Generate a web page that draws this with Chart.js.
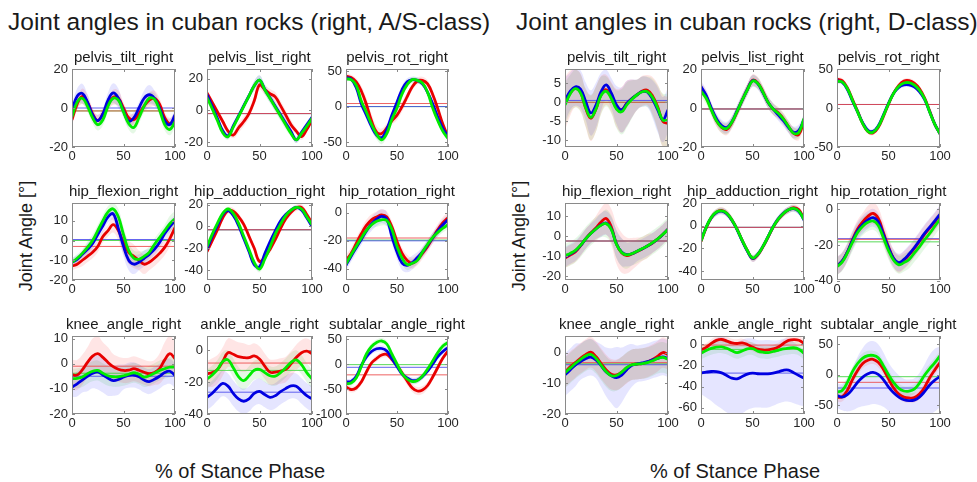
<!DOCTYPE html>
<html>
<head>
<meta charset="utf-8">
<script src="https://cdn.jsdelivr.net/npm/chart.js@4.4.1/dist/chart.umd.min.js"></script>
<style>
  body { margin: 0; background: #fff; }
  #fig { position: relative; width: 977px; height: 482px; overflow: hidden;
         font-family: 'Liberation Sans', Arial, sans-serif; color: #1a1a1a; }
  #fig canvas { position: absolute; }
  .sup  { position: absolute; top: 8px; font-size: 24.5px; white-space: nowrap; }
  .ylab { position: absolute; font-size: 18px; white-space: nowrap;
          transform: translate(-50%, -50%) rotate(-90deg); }
  .xlab { position: absolute; font-size: 20px; white-space: nowrap; transform: translate(-50%, -50%); }
</style>
</head>
<body>
<div id="fig">
  <div class="sup" style="left:8px">Joint angles in cuban rocks (right, A/S-class)</div>
  <div class="sup" style="left:516px">Joint angles in cuban rocks (right, D-class)</div>
  <div class="ylab" style="left:26px; top:236px">Joint Angle [°]</div>
  <div class="ylab" style="left:519px; top:236px">Joint Angle [°]</div>
  <div class="xlab" style="left:240px; top:471px">% of Stance Phase</div>
  <div class="xlab" style="left:735px; top:471px">% of Stance Phase</div>
</div>
<script>
/* ─── DATA ──────────────────────────────────────────────
   % of stance phase, sampled every 5 %.
   Each panel: red / blue / green mean curves, their SD,
   the three horizontal mean lines [red, blue, green],
   y range and y tick labels.                            */
const PCT = [0, 5, 10, 15, 20, 25, 30, 35, 40, 45, 50, 55, 60, 65, 70, 75, 80, 85, 90, 95, 100];
const X_TICKS = [0, 50, 100];

/* A/S-class */
const asTiltR = [-6, 2, 6, 3, -3, -6.5, -3, 2, 5.5, 5, 0, -5, -6, -3, 1, 4, 5, 2, -5, -8, -5];
const asTiltB = [-1, 6, 7.5, 3, -3.5, -6.5, -3, 4, 7.7, 5, -1.5, -6.8, -5, 0, 5, 6.8, 5, 0, -6.5, -8.5, -3.5];
const asTiltG = [-4.5, 3, 5, 1, -5, -8.5, -6, 1, 5, 4, -2, -8, -10, -5, 1, 5, 4.5, -1, -8.5, -11, -7];
const asTiltSdR = [3, 3, 4, 4, 3, 3, 3, 3, 4, 4, 3, 3, 3, 3, 3, 4, 4, 3, 3, 3, 3];
const asTiltSdB = [3, 4, 5, 4, 3, 3, 3, 4, 5, 5, 3, 3, 3, 3, 4, 5, 4, 3, 3, 3, 3];
const asTiltSdG = [3, 3, 3, 3, 3, 3, 3, 3, 3, 3, 3, 3, 3, 3, 3, 3, 3, 3, 3, 3, 3];
const asTiltM = [-1.5, 0, -1.5];
const asTiltY = [-20, 20], asTiltT = [-20, 0, 20];

const asListR = [11, 5, -1, -7, -13, -15.5, -11, -7, -2, 6, 16, 13, 10.5, 8.5, 3, -3, -9, -13, -16.5, -12, -6];
const asListB = [10, 2.4, -5.2, -12.8, -16, -9.7, -3.4, 2.9, 9.2, 15.5, 19, 13.2, 7.9, 2.6, -2.7, -8, -13.3, -18.5, -13.8, -9.1, -4.4];
const asListG = [8, 1, -6.5, -14, -16.5, -10.5, -4, 2.5, 9, 15.5, 19, 13, 7.5, 2, -3.5, -9, -14.5, -18.5, -14.5, -10, -5];
const asListSdR = [2, 2, 2, 2, 2, 2, 3, 3, 3, 3, 3, 3, 3, 3, 3, 3, 3, 2, 2, 2, 2];
const asListSdB = [2, 2, 2, 2, 2, 2, 2, 2, 2, 3, 3, 3, 3, 3, 3, 3, 2, 2, 2, 2, 2];
const asListSdG = [2, 2, 2, 2, 2, 2, 2, 2, 2, 3, 3, 3, 3, 3, 3, 3, 2, 2, 2, 2, 2];
const asListM = [-2, -2, -2];
const asListY = [-23, 26], asListT = [-20, 0, 20];

const asRotR = [43, 41, 35, 22, 3, -20, -36, -38, -30, -20, -12, 0, 14, 28, 36, 37, 32, 17, -3, -25, -42];
const asRotB = [41, 39, 27, 4, -12, -28, -40, -44, -32, -12, 6, 24, 35, 38, 37, 32, 20, 4, -15, -31, -42];
const asRotG = [39, 38, 30, 8, -8, -25, -39, -47, -38, -18, -2, 18, 31, 38, 37, 33, 20, -2, -20, -35, -45];
const asRotSdR = [4, 4, 5, 7, 9, 10, 9, 7, 6, 6, 7, 7, 6, 5, 5, 5, 5, 5, 5, 4, 4];
const asRotSdB = [3, 3, 4, 5, 6, 6, 5, 4, 4, 5, 6, 6, 5, 4, 4, 4, 4, 4, 4, 4, 3];
const asRotSdG = [3, 3, 4, 5, 6, 7, 7, 6, 5, 5, 5, 5, 4, 4, 4, 4, 4, 4, 4, 4, 3];
const asRotM = [4.3, 0, 0];
const asRotY = [-57, 53], asRotT = [-50, 0, 50];

const asHipFlexR = [-13, -12, -10, -8, -6, -3, 2, 5, 8, 5, -1, -6, -8, -10, -12, -11, -9, -6.5, -3.5, 1, 6.5];
const asHipFlexB = [-11, -9.5, -7, -4.5, -1.5, 3, 7.5, 12, 13.5, 6, -3, -10, -12, -11, -9, -7, -4.5, -1, 3.5, 7, 10];
const asHipFlexG = [-11, -9, -6.5, -3.5, 0, 5, 10, 14.5, 16, 12, 3, -5, -9, -9.5, -8, -6, -2, 1.5, 5, 8.5, 11];
const asHipFlexSdR = [2, 2, 3, 3, 3, 3, 3, 3, 4, 5, 6, 6, 6, 5, 5, 4, 4, 4, 4, 4, 4];
const asHipFlexSdB = [2, 2, 2, 3, 3, 3, 3, 3, 3, 4, 5, 5, 5, 4, 4, 3, 3, 3, 3, 3, 3];
const asHipFlexSdG = [2, 2, 2, 3, 3, 3, 3, 3, 3, 4, 4, 4, 4, 4, 3, 3, 3, 3, 3, 4, 4];
const asHipFlexM = [-3, 0.5, 0];
const asHipFlexY = [-20, 19], asHipFlexT = [-20, -10, 0, 10];

const asHipAddR = [-23, -13, -3, 8, 14.5, 14, 9, 2, -9, -20, -32, -28, -21, -12, -2, 7, 13, 17, 17.5, 11, 3];
const asHipAddB = [-21, -9, 1, 11, 14.5, 10, 1, -11, -23, -35, -37, -25, -14, -4, 5, 11, 15, 17.5, 15, 8, 0];
const asHipAddG = [-18.5, -7, 3, 12, 16, 12, 3, -9, -21, -33, -39, -30, -19, -7, 2, 10, 15, 17.5, 16, 9, 1.5];
const asHipAddSdR = [3, 3, 3, 3, 3, 3, 3, 3, 3, 3, 3, 3, 3, 3, 3, 3, 3, 3, 3, 3, 3];
const asHipAddSdB = [2, 2, 2, 2, 2, 2, 2, 2, 3, 3, 3, 3, 3, 2, 2, 2, 2, 2, 2, 2, 2];
const asHipAddSdG = [2, 2, 2, 2, 2, 2, 2, 2, 3, 3, 3, 3, 3, 2, 2, 2, 2, 2, 2, 2, 2];
const asHipAddM = [-3, -3, -3];
const asHipAddY = [-49, 21.5], asHipAddT = [-40, -20, 0, 20];

const asHipRotR = [-34, -29, -22, -15, -9, -5, -3, -1.5, -3, -10, -20.5, -29, -34, -36, -33.5, -29, -24, -18, -12, -7, -3.5];
const asHipRotB = [-37.5, -31, -25, -19, -13, -8, -4.5, -2.5, -4.5, -17, -28, -36, -37.5, -35.5, -32, -28, -23, -18, -13, -8.5, -5];
const asHipRotG = [-36.5, -30, -24, -18, -12.5, -8.5, -6, -5, -5.5, -12, -24, -32.5, -37, -36, -34, -28, -22.5, -17.5, -14, -11, -8.5];
const asHipRotSdR = [4, 4, 4, 4, 4, 4, 4, 4, 4, 4, 4, 4, 4, 4, 4, 4, 4, 4, 4, 4, 4];
const asHipRotSdB = [4, 4, 4, 4, 4, 5, 5, 5, 5, 5, 5, 5, 5, 5, 4, 4, 4, 4, 4, 4, 4];
const asHipRotSdG = [3, 3, 3, 3, 3, 3, 4, 4, 4, 4, 4, 4, 4, 3, 3, 3, 3, 3, 3, 3, 3];
const asHipRotM = [-18, -20, -19.5];
const asHipRotY = [-48, 7], asHipRotT = [-40, -20, 0];

const asKneeR = [-4.4, -4.5, -2.5, 0.5, 3, 4, 2.5, 0.5, -1.2, -2.2, -2.7, -2.6, -2, -2.6, -3.4, -4, -3.5, -2, 1.5, 4, 2];
const asKneeB = [-9.3, -8, -6.5, -5, -3.8, -3.3, -4.5, -5.8, -6.7, -6.3, -5.3, -4.6, -4.5, -5.2, -6.5, -7.1, -6.2, -5, -3.5, -3, -4.7];
const asKneeG = [-6, -5.8, -5.3, -4, -3, -2.7, -3.8, -4.8, -5.2, -5.2, -4.8, -4.2, -3.6, -4.2, -5.3, -4.8, -3.8, -2.7, -2, -1.4, -1.3];
const asKneeSdR = [6, 6, 6, 6, 7, 7, 6, 6, 5, 5, 5, 5, 5, 5, 5, 5, 5, 6, 7, 7, 7];
const asKneeSdB = [4, 5, 5, 6, 6, 7, 7, 7, 6, 6, 5, 5, 5, 5, 5, 5, 5, 5, 5, 5, 5];
const asKneeSdG = [4, 4, 4, 4, 4, 4, 4, 4, 4, 4, 4, 4, 4, 4, 4, 4, 4, 4, 4, 4, 4];
const asKneeM = [-1, -5, -3.8];
const asKneeY = [-20, 11], asKneeT = [-20, -10, 0, 10];

const asAnkleR = [-14.7, -14, -12, -7, -1.5, -2.5, -4, -4.6, -4.6, -3.5, -5.5, -10, -13.7, -13.7, -13, -12, -8.5, -4.5, -1.5, -0.5, -2];
const asAnkleB = [-29.5, -27, -23.5, -20.8, -22.5, -27, -30.5, -32, -30.5, -27, -25.8, -27.8, -29.5, -28.5, -26, -24, -22.3, -22.5, -25.5, -28.5, -30.5];
const asAnkleG = [-18, -15.5, -12, -7, -6, -11, -16.5, -19, -16, -12.5, -12, -14, -16, -16.2, -14, -11, -7.5, -6, -9, -14, -18];
const asAnkleSdR = [8, 9, 9, 9, 9, 9, 9, 9, 8, 8, 8, 8, 8, 8, 8, 8, 8, 8, 8, 8, 8];
const asAnkleSdB = [8, 8, 8, 8, 8, 8, 8, 8, 8, 8, 8, 8, 8, 8, 8, 8, 8, 8, 8, 8, 8];
const asAnkleSdG = [6, 6, 6, 6, 6, 6, 6, 6, 6, 6, 6, 6, 6, 6, 6, 6, 6, 6, 6, 6, 6];
const asAnkleM = [-8, -26.3, -12.6];
const asAnkleY = [-40, 9], asAnkleT = [-40, -20, 0];

const asSubR = [-46, -51, -48, -36, -16, 2, 11, 18, 19, 9, -3, -18, -34, -48, -54, -52, -43, -26, -7, 12, 26];
const asSubB = [-36, -35, -25, -3, 14, 25, 30.5, 31, 26, 11, -5, -20, -28, -33, -32, -25, -14, 0, 15, 25, 33];
const asSubG = [-39.5, -38, -28, -5, 20, 35, 43, 46, 40, 20, 0, -19, -30, -35, -33, -24, -10, 6, 23, 36, 43];
const asSubSdR = [6, 6, 6, 6, 6, 6, 6, 6, 6, 6, 7, 8, 8, 8, 8, 8, 7, 6, 6, 6, 6];
const asSubSdB = [6, 6, 6, 6, 6, 6, 6, 6, 6, 6, 6, 6, 6, 6, 6, 6, 6, 6, 6, 6, 6];
const asSubSdG = [6, 6, 6, 6, 6, 6, 6, 6, 6, 6, 6, 6, 6, 6, 6, 6, 6, 6, 6, 6, 6];
const asSubM = [-21.7, -6.6, -1.3];
const asSubY = [-100, 56], asSubT = [-100, -50, 0, 50];

/* D-class */
const dTiltR = [-0.3, 2.4, 3.7, 2.7, -1.5, -4.2, -1.8, 2, 3.3, 1.3, -1.5, -2, -0.3, 1, 2, 3, 3.2, 1.7, -1.2, -5, -5.6];
const dTiltB = [0.5, 2.9, 4.1, 3.5, 0.3, -2.8, -0.8, 2.8, 4.6, 2.4, -0.7, -2, -0.3, 1, 2, 2.8, 2.7, 0.8, -2, -4.6, -2];
const dTiltG = [-0.7, 2.2, 3.6, 2.5, -1.3, -4, -1.8, 1.8, 2.9, 1, -1.8, -2.5, -0.7, 0.8, 2, 2.8, 2.8, 1.3, -1.5, -4.7, -4.7];
const dTiltSdR = [7, 6, 5, 5, 5, 6, 6, 5, 4, 4, 5, 6, 6, 5, 4, 4, 4, 5, 6, 7, 7];
const dTiltSdB = [6, 5, 5, 5, 5, 6, 6, 5, 4, 4, 5, 6, 6, 5, 4, 4, 4, 5, 6, 6, 6];
const dTiltSdG = [6, 5, 5, 5, 5, 6, 6, 5, 4, 4, 5, 6, 6, 5, 4, 4, 4, 5, 6, 7, 7];
const dTiltM = [0, 0.5, 0];
const dTiltY = [-11.8, 8.8], dTiltT = [-10, -5, 0, 5];

const dListR = [10.2, 6, -0.5, -6.5, -10, -11, -7.5, -2, 4, 9.5, 14.3, 13, 8.5, 3, -0.5, -2.5, -5.5, -9.5, -13, -13.5, -6.8];
const dListB = [11, 6.5, 0, -5.5, -9, -10, -7, -1.5, 4, 9.5, 14, 12.5, 8, 3, -0.5, -3.5, -6.5, -10, -12.5, -11.5, -6];
const dListG = [8.5, 5, -1, -6.5, -9.8, -10.5, -7.2, -1.8, 4, 9.3, 13.8, 12.7, 8.3, 3, -0.5, -2.7, -5.7, -9.5, -13, -12.5, -5.4];
const dListSdR = [3, 3, 3, 3, 3, 3, 3, 3, 3, 3, 3, 3, 3, 3, 3, 3, 3, 3, 3, 3, 3];
const dListSdB = [3, 3, 3, 3, 3, 3, 3, 3, 3, 3, 3, 3, 3, 3, 3, 3, 3, 3, 3, 3, 3];
const dListSdG = [3, 3, 3, 3, 3, 3, 3, 3, 3, 3, 3, 3, 3, 3, 3, 3, 3, 3, 3, 3, 3];
const dListM = [-0.5, -0.5, -0.5];
const dListY = [-20, 20], dListT = [-20, 0, 20];

const dRotR = [37, 35, 26, 11, -4, -20, -30, -32, -25, -11, 5, 19, 29, 34.5, 35, 32, 25, 13, -4, -21, -33];
const dRotB = [35, 33, 24, 9, -5, -19, -28.5, -30, -23, -9, 6, 19, 26.5, 29.5, 29.5, 27, 21, 11, -5, -21, -33];
const dRotG = [34, 33.5, 25, 10, -5, -20, -30, -31, -24, -10, 5.5, 19, 28, 32, 32.5, 29.5, 23, 12, -5, -21, -33];
const dRotSdR = [3, 3, 3, 3, 3, 3, 3, 3, 3, 3, 3, 3, 3, 3, 3, 3, 3, 3, 3, 3, 3];
const dRotSdB = [3, 3, 3, 3, 3, 3, 3, 3, 3, 3, 3, 3, 3, 3, 3, 3, 3, 3, 3, 3, 3];
const dRotSdG = [3, 3, 3, 3, 3, 3, 3, 3, 3, 3, 3, 3, 3, 3, 3, 3, 3, 3, 3, 3, 3];
const dRotM = [4.5, 4.5, 4.5];
const dRotY = [-50, 50], dRotT = [-50, 0, 50];

const dHipFlexR = [-11, -9.5, -8, -5, -1.5, 1.5, 4, 7, 8.7, 4.5, -4, -8.4, -9.8, -9, -7.8, -6.5, -5, -3.5, -1.5, 0.8, 3.4];
const dHipFlexB = [-10.5, -9, -7.5, -4.8, -1.5, 1.2, 3.5, 5.5, 6.5, 3.5, -4, -8, -9.3, -8.8, -7.6, -6.4, -5, -3.4, -1.5, 0.8, 3.4];
const dHipFlexG = [-9.8, -8.7, -7.2, -4.6, -1.5, 1.2, 3.5, 5.4, 6.2, 3.2, -4.2, -8.2, -9.4, -8.8, -7.6, -6.3, -5, -3.3, -1.4, 0.8, 3.2];
const dHipFlexSdR = [5, 5, 5, 5, 5, 5, 6, 7, 8, 9, 10, 10, 9, 8, 7, 6, 6, 5, 5, 5, 5];
const dHipFlexSdB = [5, 5, 5, 5, 5, 5, 5, 6, 6, 6, 7, 7, 6, 6, 5, 5, 5, 5, 5, 5, 5];
const dHipFlexSdG = [6, 6, 6, 6, 6, 6, 6, 6, 7, 7, 7, 7, 7, 6, 6, 6, 6, 6, 6, 6, 6];
const dHipFlexM = [-2.5, -2.5, -2.5];
const dHipFlexY = [-22, 16.5], dHipFlexT = [-20, -10, 0, 10];

const dHipAddR = [-14, -2, 7, 12, 13.5, 11, 5, -3, -13, -22, -29, -26, -19, -10.5, -1.5, 5.5, 10.5, 14, 16, 14, 6];
const dHipAddB = [-13, -1.5, 7, 11.5, 12.8, 10.5, 4.8, -3.5, -13.5, -22.5, -29, -25.5, -18.5, -10, -1, 6, 11, 14, 15, 12.5, 5];
const dHipAddG = [-13.5, -1.5, 7.3, 12, 13, 11, 5, -3.2, -13, -22, -28.5, -25.5, -18.5, -10, -1.2, 5.8, 10.8, 14, 15.3, 12.8, 5.5];
const dHipAddSdR = [3, 3, 3, 3, 3, 3, 3, 3, 3, 3, 3, 3, 3, 3, 3, 3, 3, 3, 3, 3, 3];
const dHipAddSdB = [3, 3, 3, 3, 3, 3, 3, 3, 3, 3, 3, 3, 3, 3, 3, 3, 3, 3, 3, 3, 3];
const dHipAddSdG = [3, 3, 3, 3, 3, 3, 3, 3, 3, 3, 3, 3, 3, 3, 3, 3, 3, 3, 3, 3, 3];
const dHipAddM = [-1.5, -1.5, -1.5];
const dHipAddY = [-48, 20], dHipAddT = [-40, -20, 0, 20];

const dHipRotR = [-31.7, -29, -24, -17, -11, -7, -4, -2.3, -5, -13, -21, -27.5, -30.4, -28.5, -25.5, -22, -18, -14, -10.5, -7, -3.2];
const dHipRotB = [-31.7, -29, -24, -17.5, -12, -8.5, -6, -4.7, -7, -14, -21.5, -27.5, -29.8, -28, -25, -21.5, -17.5, -13.5, -10, -6.5, -2.8];
const dHipRotG = [-32, -29.5, -24.5, -18.5, -13, -9.5, -7.3, -6.5, -9, -15.8, -23, -28.5, -31, -29.8, -28, -24.5, -21, -17, -13.5, -9.5, -5.6];
const dHipRotSdR = [5, 5, 5, 5, 5, 5, 6, 6, 6, 6, 6, 5, 5, 5, 5, 5, 5, 5, 5, 5, 5];
const dHipRotSdB = [5, 5, 5, 5, 5, 5, 5, 5, 5, 5, 5, 5, 5, 5, 5, 5, 5, 5, 5, 5, 5];
const dHipRotSdG = [5, 5, 5, 5, 5, 5, 5, 5, 5, 5, 5, 5, 5, 5, 5, 5, 5, 5, 5, 5, 5];
const dHipRotM = [-16.8, -16.4, -18.2];
const dHipRotY = [-39.5, 3.5], dHipRotT = [-40, -20, 0];

const dKneeR = [-6.3, -4.6, -3.2, -1.8, -0.6, 0.2, -1.2, -3.5, -5.6, -7, -7.2, -6.3, -5, -3.9, -3.7, -3.5, -3, -2.2, -1.1, 0.1, -0.5];
const dKneeB = [-7.2, -5.6, -4, -2.9, -1.9, -1.4, -2.3, -4.2, -6.3, -7.5, -8.1, -7.3, -5.5, -4.1, -3.6, -3.3, -2.9, -2.3, -1.8, -1.3, -1.9];
const dKneeG = [-6.5, -5, -3.5, -2.2, -1, -0.5, -1.8, -4, -6.2, -7.5, -7.4, -6.3, -4.8, -3.9, -3.7, -3.5, -3.2, -2.6, -1.8, -1.5, -2.1];
const dKneeSdR = [5, 5, 5, 5, 5, 5, 5, 5, 5, 5, 5, 5, 5, 5, 5, 5, 5, 5, 5, 5, 5];
const dKneeSdB = [7, 7, 7, 6, 6, 6, 6, 7, 8, 9, 10, 9, 8, 7, 6, 6, 6, 6, 6, 6, 6];
const dKneeSdG = [5, 5, 5, 5, 5, 5, 5, 5, 5, 5, 5, 5, 5, 5, 5, 5, 5, 5, 5, 5, 5];
const dKneeM = [-3.2, -3.9, -3.6];
const dKneeY = [-20, 5.5], dKneeT = [-20, -10, 0];

const dAnkleR = [-5.3, -2.8, 1, 3.8, 4.7, 3.2, 1.5, 0.9, 1.5, 0, -2.5, -4.5, -5.3, -5.2, -4.3, -2.5, 0.9, 3.8, 4.6, 4, 0.9];
const dAnkleB = [-27.2, -26.3, -25.7, -25.8, -27, -29.5, -32, -32.6, -30.5, -28.2, -27.3, -27.8, -28, -27.9, -27.2, -26, -24.5, -24.4, -26.8, -29.5, -31.9];
const dAnkleG = [-8.4, -5.8, -3.8, -2.6, -2.3, -3.6, -6, -7.7, -6.2, -4.2, -4, -6.3, -7.4, -7.8, -6.7, -5.6, -4.3, -3.5, -3.1, -4.5, -8.4];
const dAnkleSdR = [4, 4, 4, 4, 4, 4, 4, 4, 4, 4, 4, 4, 4, 4, 4, 4, 4, 4, 4, 4, 4];
const dAnkleSdB = [20, 24, 28, 32, 34, 35, 35, 35, 35, 34, 33, 32, 32, 32, 31, 30, 30, 30, 29, 28, 27];
const dAnkleSdG = [6, 6, 6, 6, 6, 6, 6, 6, 6, 6, 6, 6, 6, 6, 6, 6, 6, 6, 6, 6, 6];
const dAnkleM = [-0.6, -27.2, -4.7];
const dAnkleY = [-66, 8], dAnkleT = [-60, -40, -20, 0];

const dSubR = [-37.4, -36.5, -26, -8, 7, 18.5, 24, 25.5, 20.5, 9, -7, -22, -32, -37, -38.5, -38, -32, -21, -5, 8, 20.3];
const dSubB = [-34.6, -37, -33, -24, -12.5, -4, 1.5, 3.7, 0.5, -8, -20, -30, -37, -41.5, -42.9, -42, -37, -28, -17, -9, -3.3];
const dSubG = [-29, -26, -13, 5, 18.5, 27.5, 31.5, 31.8, 28, 15, 0, -13, -22.5, -27, -27.2, -24, -14, -1, 10, 20, 31.3];
const dSubSdR = [8, 8, 8, 8, 8, 8, 8, 8, 8, 8, 8, 8, 8, 8, 8, 8, 8, 8, 8, 8, 8];
const dSubSdB = [20, 22, 28, 35, 42, 48, 52, 52, 50, 45, 40, 38, 36, 35, 35, 36, 40, 45, 50, 52, 50];
const dSubSdG = [8, 8, 8, 8, 8, 8, 8, 8, 8, 8, 8, 8, 8, 8, 8, 8, 8, 8, 8, 8, 8];
const dSubM = [-12.6, -22, -3.3];
const dSubY = [-65, 64], dSubT = [-50, 0, 50];

/* ─── PANEL LIST ─────────────────────────────────────── */
const panels = [
  ['pelvis_tilt_right',    0, 0, asTiltR, asTiltB, asTiltG, [asTiltSdR, asTiltSdB, asTiltSdG], asTiltM, asTiltY, asTiltT],
  ['pelvis_list_right',    1, 0, asListR, asListB, asListG, [asListSdR, asListSdB, asListSdG], asListM, asListY, asListT],
  ['pelvis_rot_right',     2, 0, asRotR, asRotB, asRotG, [asRotSdR, asRotSdB, asRotSdG], asRotM, asRotY, asRotT],
  ['hip_flexion_right',    0, 1, asHipFlexR, asHipFlexB, asHipFlexG, [asHipFlexSdR, asHipFlexSdB, asHipFlexSdG], asHipFlexM, asHipFlexY, asHipFlexT],
  ['hip_adduction_right',  1, 1, asHipAddR, asHipAddB, asHipAddG, [asHipAddSdR, asHipAddSdB, asHipAddSdG], asHipAddM, asHipAddY, asHipAddT],
  ['hip_rotation_right',   2, 1, asHipRotR, asHipRotB, asHipRotG, [asHipRotSdR, asHipRotSdB, asHipRotSdG], asHipRotM, asHipRotY, asHipRotT],
  ['knee_angle_right',     0, 2, asKneeR, asKneeB, asKneeG, [asKneeSdR, asKneeSdB, asKneeSdG], asKneeM, asKneeY, asKneeT],
  ['ankle_angle_right',    1, 2, asAnkleR, asAnkleB, asAnkleG, [asAnkleSdR, asAnkleSdB, asAnkleSdG], asAnkleM, asAnkleY, asAnkleT],
  ['subtalar_angle_right', 2, 2, asSubR, asSubB, asSubG, [asSubSdR, asSubSdB, asSubSdG], asSubM, asSubY, asSubT],
  ['pelvis_tilt_right',    3, 0, dTiltR, dTiltB, dTiltG, [dTiltSdR, dTiltSdB, dTiltSdG], dTiltM, dTiltY, dTiltT],
  ['pelvis_list_right',    4, 0, dListR, dListB, dListG, [dListSdR, dListSdB, dListSdG], dListM, dListY, dListT],
  ['pelvis_rot_right',     5, 0, dRotR, dRotB, dRotG, [dRotSdR, dRotSdB, dRotSdG], dRotM, dRotY, dRotT],
  ['hip_flexion_right',    3, 1, dHipFlexR, dHipFlexB, dHipFlexG, [dHipFlexSdR, dHipFlexSdB, dHipFlexSdG], dHipFlexM, dHipFlexY, dHipFlexT],
  ['hip_adduction_right',  4, 1, dHipAddR, dHipAddB, dHipAddG, [dHipAddSdR, dHipAddSdB, dHipAddSdG], dHipAddM, dHipAddY, dHipAddT],
  ['hip_rotation_right',   5, 1, dHipRotR, dHipRotB, dHipRotG, [dHipRotSdR, dHipRotSdB, dHipRotSdG], dHipRotM, dHipRotY, dHipRotT],
  ['knee_angle_right',     3, 2, dKneeR, dKneeB, dKneeG, [dKneeSdR, dKneeSdB, dKneeSdG], dKneeM, dKneeY, dKneeT],
  ['ankle_angle_right',    4, 2, dAnkleR, dAnkleB, dAnkleG, [dAnkleSdR, dAnkleSdB, dAnkleSdG], dAnkleM, dAnkleY, dAnkleT],
  ['subtalar_angle_right', 5, 2, dSubR, dSubB, dSubG, [dSubSdR, dSubSdB, dSubSdG], dSubM, dSubY, dSubT]
];

/* ─── LAYOUT ──────────────────────────────────────────
   Plot-area edges (page pixels) of the six columns and
   three rows; the canvas adds room for title and ticks. */
const COLS = [[72, 175], [207, 312], [346, 448], [565, 668], [701, 804], [837, 940]];
const ROWS = [[69, 147], [203, 280], [336, 414]];
const PAD_L = 44, PAD_R = 30, PAD_T = 22, PAD_B = 20;

const LINE = ['rgb(232,0,0)', 'rgb(0,0,225)', 'rgb(0,235,0)'];
const HLINE = ['rgba(235,70,70,0.85)', 'rgba(70,70,235,0.85)', 'rgba(60,210,60,0.85)'];
const BAND = ['rgba(255,0,0,0.10)', 'rgba(0,0,255,0.10)', 'rgba(0,190,0,0.10)'];

Chart.defaults.font.family = "'Liberation Sans', Arial, sans-serif";
Chart.defaults.color = '#262626';

/* box round the plot area with small inward tick marks,
   plus the panel name centred over the plot area        */
const framePlugin = {
  id: 'frame',
  afterDatasetsDraw(chart, args, opts) {
    const { ctx, chartArea: a, scales: { x, y } } = chart;
    ctx.save();
    ctx.strokeStyle = '#8a8a8a';
    ctx.lineWidth = 1;
    ctx.strokeRect(a.left + 0.5, a.top + 0.5, a.right - a.left - 1, a.bottom - a.top - 1);
    ctx.beginPath();
    x.ticks.forEach(t => {
      const px = Math.round(x.getPixelForValue(t.value)) + 0.5;
      ctx.moveTo(px, a.bottom); ctx.lineTo(px, a.bottom - 3);
      ctx.moveTo(px, a.top); ctx.lineTo(px, a.top + 3);
    });
    y.ticks.forEach(t => {
      const py = Math.round(y.getPixelForValue(t.value)) + 0.5;
      ctx.moveTo(a.left, py); ctx.lineTo(a.left + 3, py);
      ctx.moveTo(a.right, py); ctx.lineTo(a.right - 3, py);
    });
    ctx.stroke();
    ctx.fillStyle = '#1a1a1a';
    ctx.font = "15px 'Liberation Sans', Arial, sans-serif";
    ctx.textAlign = 'center';
    ctx.textBaseline = 'alphabetic';
    ctx.fillText(opts.text, (a.left + a.right) / 2, a.top - 7);
    ctx.restore();
  }
};

function pts(arr, sd, sign) {
  return PCT.map((x, i) => ({ x, y: arr[i] + (sd ? sign * sd[i] : 0) }));
}

function buildPanel(p) {
  const [title, col, row, red, blue, green, sds, means, yr, yt] = p;
  const [L, R] = COLS[col], [T, B] = ROWS[row];
  const w = R - L + PAD_L + PAD_R, h = B - T + PAD_T + PAD_B;
  const cv = document.createElement('canvas');
  cv.width = w; cv.height = h;
  cv.style.left = (L - PAD_L) + 'px'; cv.style.top = (T - PAD_T) + 'px';
  cv.style.width = w + 'px'; cv.style.height = h + 'px';
  document.getElementById('fig').appendChild(cv);

  const series = [red, blue, green];
  const datasets = [];
  // shaded SD bands (drawn first)
  series.forEach((s, k) => {
    datasets.push({ data: pts(s, sds[k], 1), fill: '+1', backgroundColor: BAND[k],
                    borderWidth: 0, pointRadius: 0, tension: 0.4, order: 10 });
    datasets.push({ data: pts(s, sds[k], -1), fill: false,
                    borderWidth: 0, pointRadius: 0, tension: 0.4, order: 10 });
  });
  // horizontal mean lines
  means.forEach((m, k) => {
    datasets.push({ data: [{ x: 0, y: m }, { x: 100, y: m }], borderColor: HLINE[k],
                    borderWidth: 1, pointRadius: 0, fill: false, order: 5 });
  });
  // mean curves: green on top, then blue, then red
  series.forEach((s, k) => {
    datasets.push({ data: pts(s), borderColor: LINE[k], borderWidth: 2.8, pointRadius: 0,
                    fill: false, tension: 0.4, order: 3 - k });
  });

  new Chart(cv, {
    type: 'line',
    data: { datasets },
    options: {
      responsive: false,
      animation: false,
      events: [],
      layout: { padding: { left: 0, right: PAD_R, top: PAD_T, bottom: 0 } },
      plugins: {
        legend: { display: false },
        tooltip: { enabled: false },
        title: { display: false },
        frame: { text: title }
      },
      scales: {
        x: {
          type: 'linear', min: 0, max: 100,
          grid: { display: false, drawTicks: false }, border: { display: false },
          afterBuildTicks: s => { s.ticks = X_TICKS.map(v => ({ value: v })); },
          afterFit: s => { s.height = PAD_B; },
          ticks: { padding: 2, color: '#262626', font: { size: 13 }, maxRotation: 0, autoSkip: false }
        },
        y: {
          min: yr[0], max: yr[1],
          grid: { display: false, drawTicks: false }, border: { display: false },
          afterBuildTicks: s => { s.ticks = yt.map(v => ({ value: v })); },
          afterFit: s => { s.width = PAD_L; },
          ticks: { padding: 4, color: '#262626', font: { size: 13 }, autoSkip: false }
        }
      }
    },
    plugins: [framePlugin]
  });
}

panels.forEach(buildPanel);
</script>
</body>
</html>
